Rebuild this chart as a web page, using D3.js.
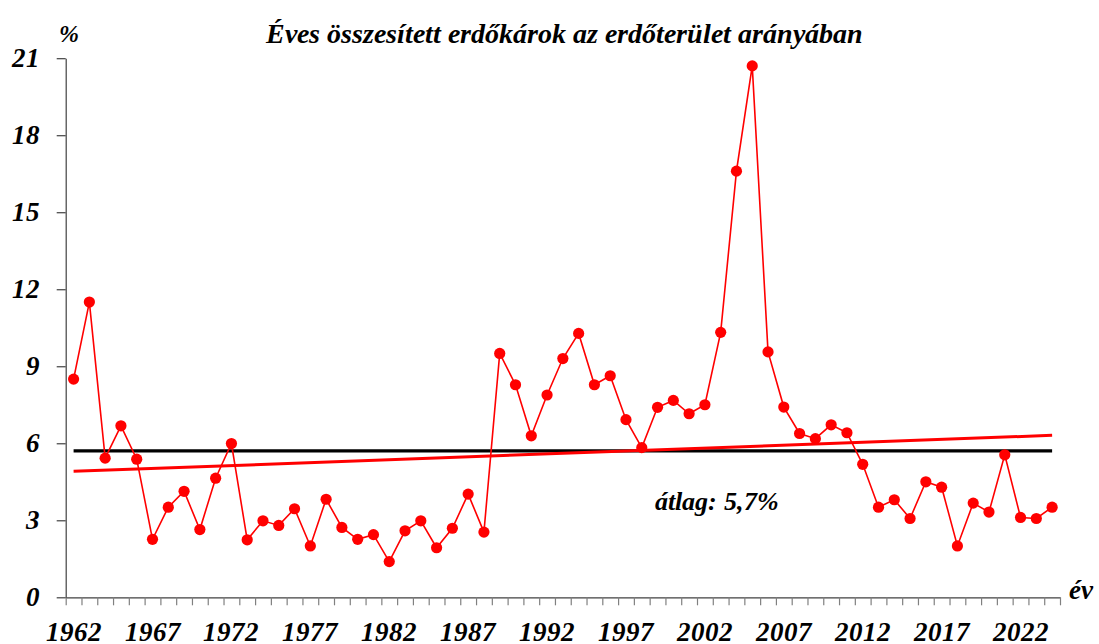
<!DOCTYPE html>
<html>
<head>
<meta charset="utf-8">
<script src="https://cdn.jsdelivr.net/npm/d3@7"></script>
<style>
  @font-face {
    font-family: 'ChartSerif';
    src: local('Liberation Serif Bold Italic'), local('LiberationSerif-BoldItalic'), local('Times New Roman Bold Italic');
    font-weight: bold;
    font-style: italic;
  }
  body { margin: 0; background: #fff; }
  #wrap { position: relative; width: 1099px; height: 644px; overflow: hidden; }
  #wrap svg { position: absolute; left: 0; top: 0; }
</style>
</head>
<body>
<div id="wrap">
  <svg id="chart" width="1099" height="644"></svg>
  <div id="labels"></div>
</div>
<script>
'use strict'

// data
const years = d3.range(1962, 2025)
const damage = [
  8.5, 11.5, 5.42, 6.68, 5.38, 2.26, 3.51, 4.13, 2.64, 4.64,
  5.99, 2.24, 2.98, 2.8, 3.45, 2.0, 3.82, 2.72, 2.26, 2.44,
  1.39, 2.59, 2.98, 1.93, 2.69, 4.02, 2.54, 9.5, 8.28, 6.29,
  7.88, 9.3, 10.28, 8.28, 8.63, 6.92, 5.83, 7.4, 7.67, 7.15,
  7.5, 10.32, 16.6, 20.7, 9.56, 7.41, 6.38, 6.18, 6.72, 6.41,
  5.18, 3.51, 3.8, 3.07, 4.5, 4.29, 2.0, 3.67, 3.32, 5.55,
  3.11, 3.07, 3.51
]
const labelYears = d3.range(1962, 2025, 5)
const yTicks = d3.range(0, 22, 3)
const average = 5.7
const title = 'Éves összesített erdőkárok az erdőterület arányában'

const cfg = {
  left: 65.7,
  right: 1060,
  top: 58.2,
  bottom: 597.3,
  axisColor: '#404040',
  red: '#ff0000'
}

const svg = d3.select('#chart')
const labels = []

// html labels, x,y is the baseline anchor; anchor 0 start, 0.5 middle, 1 end
function label(txt, x, y, size, anchor = 0) {
  labels.push(`<div style="position:absolute;white-space:nowrap;line-height:1;` +
    `font-family:'ChartSerif','Liberation Serif';font-weight:bold;font-style:italic;color:#000;` +
    `font-size:${size}px;left:${x}px;top:${y - 0.8375 * size}px;` +
    `transform:translateX(${-anchor * 100}%)">${txt}</div>`)
}

const x = d3.scaleLinear()
  .domain([years[0] - 0.5, years[years.length - 1] + 0.5])
  .range([cfg.left, cfg.right])

const y = d3.scaleLinear()
  .domain([0, 21])
  .range([cfg.bottom, cfg.top])

// x axis: ticks between the years
const xAxis = svg.append('g')
  .attr('transform', `translate(0,${cfg.bottom})`)
  .call(d3.axisBottom(x)
    .tickValues(d3.range(years[0] - 0.5, years[years.length - 1] + 1, 1))
    .tickSize(8)
    .tickSizeOuter(0)
    .tickFormat(''))
xAxis.select('.domain').attr('stroke', cfg.axisColor).attr('stroke-width', 1.2)
xAxis.selectAll('.tick line').attr('stroke', '#808080').attr('stroke-width', 1.2)

// year labels every 5 years
labelYears.forEach(d => label(d, x(d), 642, 27, 0.5))

// y axis
const yAxis = svg.append('g')
  .attr('transform', `translate(${cfg.left},0)`)
  .call(d3.axisLeft(y)
    .tickValues(yTicks)
    .tickSize(9)
    .tickSizeOuter(0)
    .tickFormat(''))
yAxis.select('.domain').attr('stroke', cfg.axisColor).attr('stroke-width', 1.2)
yAxis.selectAll('.tick line').attr('stroke', cfg.axisColor).attr('stroke-width', 1.2)
yTicks.forEach(d => label(d, cfg.left - 26, y(d) + 9, 27, 1))

// average line
svg.append('line')
  .attr('x1', x(years[0]))
  .attr('x2', x(years[years.length - 1]))
  .attr('y1', y(average))
  .attr('y2', y(average))
  .attr('stroke', '#000')
  .attr('stroke-width', 3.2)

// linear trend (least squares, like the spreadsheet trendline)
const mx = d3.mean(years), my = d3.mean(damage)
const slope = d3.sum(years, (d, i) => (d - mx) * (damage[i] - my)) /
              d3.sum(years, d => (d - mx) * (d - mx))
const trend = yr => my + slope * (yr - mx)

// series line
const points = years.map((d, i) => ({year: d, value: damage[i]}))
const line = d3.line().x(d => x(d.year)).y(d => y(d.value))

svg.append('path')
  .datum(points)
  .attr('d', line)
  .attr('fill', 'none')
  .attr('stroke', cfg.red)
  .attr('stroke-width', 1.6)

svg.append('line')
  .attr('x1', x(years[0]))
  .attr('x2', x(years[years.length - 1]))
  .attr('y1', y(trend(years[0])))
  .attr('y2', y(trend(years[years.length - 1])))
  .attr('stroke', cfg.red)
  .attr('stroke-width', 3)

svg.append('g').selectAll('circle')
  .data(points)
  .join('circle')
  .attr('cx', d => x(d.year))
  .attr('cy', d => y(d.value))
  .attr('r', 5.6)
  .attr('fill', cfg.red)

// texts
label(title, 564, 43, 28, 0.5)
label('%', 59, 42, 24)
label('év', 1069, 600, 27)
label(`átlag: ${String(average).replace('.', ',')}%`, 655, 511, 26)

document.getElementById('labels').innerHTML = labels.join('')
</script>
</body>
</html>
